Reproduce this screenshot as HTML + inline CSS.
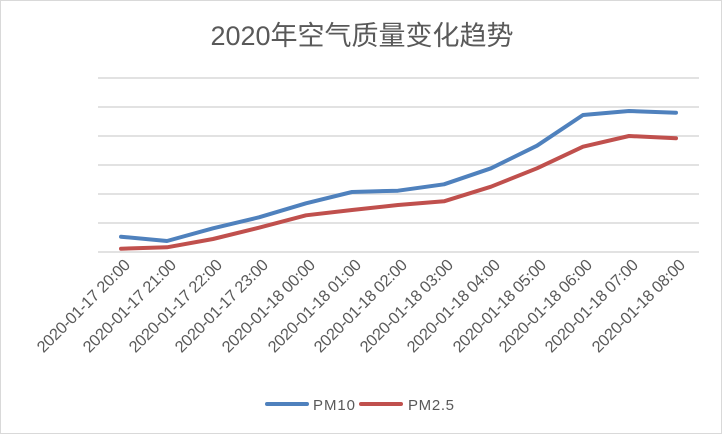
<!DOCTYPE html>
<html><head><meta charset="utf-8"><style>
html,body{margin:0;padding:0;background:#fff}
svg{display:block}
text{font-family:"Liberation Sans","Noto Sans CJK SC",sans-serif;fill:#595959}
</style></head><body>
<svg width="722" height="434" viewBox="0 0 722 434" xmlns="http://www.w3.org/2000/svg">
<rect x="0.5" y="0.5" width="721" height="433" fill="#fff" stroke="#d9d9d9"/>
<text x="362" y="45" font-size="27" text-anchor="middle">2020年空气质量变化趋势</text>
<g stroke="#d9d9d9" stroke-width="1.5">
<line x1="98" x2="699" y1="78" y2="78"/><line x1="98" x2="699" y1="107" y2="107"/>
<line x1="98" x2="699" y1="136" y2="136"/><line x1="98" x2="699" y1="165" y2="165"/>
<line x1="98" x2="699" y1="194" y2="194"/><line x1="98" x2="699" y1="223" y2="223"/>
<line x1="98" x2="699" y1="252" y2="252"/>
</g>
<polyline fill="none" stroke="#4f81bd" stroke-width="4" stroke-linejoin="round" stroke-linecap="round"
points="121,236.7 167,241 213,228.3 259,217.3 306,203.3 352,192 398,190.7 444,184.3 491,168.3 537,145.7 583,115 629,111 676,112.7"/>
<polyline fill="none" stroke="#c0504d" stroke-width="4" stroke-linejoin="round" stroke-linecap="round"
points="121,248.7 167,247.3 213,239 259,227.7 306,215.3 352,210 398,205 444,201.3 491,186.7 537,168.3 583,146.7 629,136 676,138.3"/>
<g font-size="16.3" text-anchor="end" letter-spacing="-0.3">
<text transform="translate(131,266) rotate(-45)">2020-01-17 20:00</text>
<text transform="translate(177,266) rotate(-45)">2020-01-17 21:00</text>
<text transform="translate(223,266) rotate(-45)">2020-01-17 22:00</text>
<text transform="translate(269,266) rotate(-45)">2020-01-17 23:00</text>
<text transform="translate(316,266) rotate(-45)">2020-01-18 00:00</text>
<text transform="translate(362,266) rotate(-45)">2020-01-18 01:00</text>
<text transform="translate(408,266) rotate(-45)">2020-01-18 02:00</text>
<text transform="translate(454,266) rotate(-45)">2020-01-18 03:00</text>
<text transform="translate(501,266) rotate(-45)">2020-01-18 04:00</text>
<text transform="translate(547,266) rotate(-45)">2020-01-18 05:00</text>
<text transform="translate(593,266) rotate(-45)">2020-01-18 06:00</text>
<text transform="translate(639,266) rotate(-45)">2020-01-18 07:00</text>
<text transform="translate(686,266) rotate(-45)">2020-01-18 08:00</text>
</g>
<line x1="267" x2="307" y1="404" y2="404" stroke="#4f81bd" stroke-width="4" stroke-linecap="round"/>
<text x="313" y="410" font-size="15" textLength="42">PM10</text>
<line x1="361" x2="401" y1="404" y2="404" stroke="#c0504d" stroke-width="4" stroke-linecap="round"/>
<text x="408" y="410" font-size="15" textLength="46">PM2.5</text>
</svg>
</body></html>
